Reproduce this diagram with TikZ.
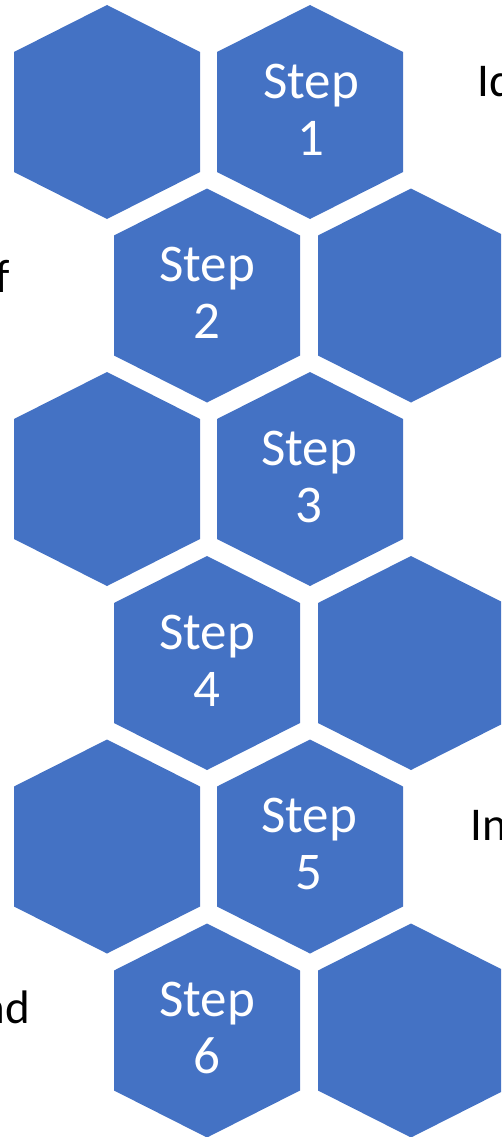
\documentclass[tikz,border=0pt]{standalone}
\usepackage{fontspec}
\setmainfont{Carlito}
\usetikzlibrary{positioning}
\definecolor{hexblue}{RGB}{68,114,196}

\tikzset{
  hexfill/.style={fill=hexblue},
  steplabel/.style={text=white, align=center, inner sep=0pt, font=\fontsize{53}{57}\selectfont},
  sidelabel/.style={text=black, inner sep=0pt, font=\fontsize{47}{55}\selectfont},
}
% one honeycomb cell, centre given in pixels
\newcommand{\hexcell}[2]{\fill[hexfill] (#1,#2) ++(0,-107) -- ++(93,47) -- ++(0,120) -- ++(-93,47) -- ++(-93,-47) -- ++(0,-120) -- cycle;}

\begin{document}
\begin{tikzpicture}[x=1pt, y=-1pt]

\useasboundingbox (0,0) rectangle (501,1137);
\clip (0,0) rectangle (501,1137);

% Cells, rows from top to bottom
\foreach \cx/\cy in {107/112, 310/112, 207/295.5, 411/295.5, 107/479, 310/479,
                     207/663, 411/663, 107/846.5, 310/846.5, 207/1030.5, 411/1030.5}
  {\hexcell{\cx}{\cy}}

% Step labels
\node[steplabel] (step1) at (311,110) {Step\\1};
\node[steplabel] (step2) at (207,293) {Step\\2};
\node[steplabel] (step3) at (309,477) {Step\\3};
\node[steplabel] (step4) at (207,661) {Step\\4};
\node[steplabel] (step5) at (309,844) {Step\\5};
\node[steplabel] (step6) at (207,1028) {Step\\6};

% Side texts, cut at the edges
\node[sidelabel, anchor=base west] (side1) at (477,97) {Id};
\node[sidelabel, anchor=base east] (side2) at (10,292) {f};
\node[sidelabel, anchor=base west] (side5) at (470,840) {In};
\node[sidelabel, anchor=base east] (side6) at (30,1023) {nd};

\end{tikzpicture}
\end{document}
